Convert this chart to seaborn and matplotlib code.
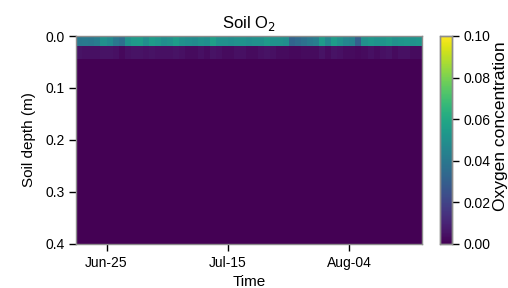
import numpy as np
import pandas as pd
import seaborn as sns
import matplotlib.pyplot as plt

# daily dates, Jun-20 to Aug-15
dates = pd.date_range('2023-06-20', '2023-08-15', freq='D')

# O2 in top layer (0 - 0.02 m), one value per day
top_o2 = [0.040, 0.041, 0.040, 0.042, 0.050, 0.047, 0.040, 0.036,
          0.050, 0.054, 0.055, 0.049, 0.055, 0.053, 0.049, 0.050,
          0.055, 0.050, 0.049, 0.048, 0.050, 0.049, 0.056, 0.051,
          0.050, 0.049, 0.050, 0.051, 0.049, 0.050, 0.050, 0.054,
          0.051, 0.050, 0.049, 0.032, 0.034, 0.037, 0.040, 0.042,
          0.054, 0.046, 0.055, 0.050, 0.046, 0.044, 0.030, 0.050,
          0.053, 0.051, 0.052, 0.054, 0.050, 0.052, 0.053, 0.051, 0.052]

# O2 in second layer (0.02 - 0.045 m)
mid_o2 = [0.005, 0.004, 0.004, 0.004, 0.005, 0.005, 0.004, 0.002,
          0.004, 0.005, 0.005, 0.004, 0.005, 0.004, 0.004, 0.004,
          0.005, 0.004, 0.003, 0.003, 0.004, 0.003, 0.005, 0.004,
          0.003, 0.003, 0.004, 0.004, 0.003, 0.003, 0.004, 0.005,
          0.004, 0.003, 0.003, 0.002, 0.002, 0.003, 0.003, 0.003,
          0.005, 0.003, 0.005, 0.004, 0.003, 0.003, 0.002, 0.003,
          0.004, 0.003, 0.004, 0.005, 0.003, 0.004, 0.004, 0.003, 0.003]

# deeper soil, essentially no oxygen
deep_o2 = 0.0

# depth grid, 0.005 m steps down to 0.4 m
dz = 0.005
depths = np.round(np.arange(0, 0.4, dz), 3)
layer_top = 0.02
layer_mid = 0.045

rows = []
for d in depths:
    if d < layer_top:
        rows.append(top_o2)
    elif d < layer_mid:
        rows.append(mid_o2)
    else:
        rows.append([deep_o2] * len(dates))
df = pd.DataFrame(rows, index=depths, columns=dates)

sns.set_style('ticks')
plt.rcParams['font.family'] = ['Liberation Sans', 'DejaVu Sans']
plt.rcParams['text.color'] = 'black'
plt.rcParams['axes.labelcolor'] = 'black'
plt.rcParams['xtick.color'] = 'black'
plt.rcParams['ytick.color'] = 'black'

fig = plt.figure(figsize=(5.08, 2.88), dpi=100)
ax = fig.add_axes([0.15, 0.153, 0.681, 0.722])
cax = fig.add_axes([0.866, 0.153, 0.023, 0.722])

sns.heatmap(df, ax=ax, cbar_ax=cax, cmap='viridis', vmin=0, vmax=0.1,
            xticklabels=False, yticklabels=False)

# ticks in data units -> heatmap cell positions
tick_depths = [0.0, 0.1, 0.2, 0.3, 0.4]
ax.set_yticks([d / dz for d in tick_depths])
ax.set_yticklabels([f'{d:.1f}' for d in tick_depths], rotation=0)
tick_dates = pd.to_datetime(['2023-06-25', '2023-07-15', '2023-08-04'])
ax.set_xticks([(t - dates[0]).days for t in tick_dates])
ax.set_xticklabels([t.strftime('%b-%d') for t in tick_dates], rotation=0)

for spine in ax.spines.values():
    spine.set_visible(True)
    spine.set_color('#8c8c8c')
    spine.set_linewidth(1.0)
ax.tick_params(labelsize=10, length=5, width=1.0, color='black',
               labelcolor='black', direction='out', left=True, bottom=True)
for t in ax.xaxis.get_major_ticks() + ax.yaxis.get_major_ticks():
    t.tick1line.set_visible(True)

ax.set_title('Soil O$_2$', fontsize=12)
ax.set_xlabel('Time', fontsize=11)
ax.set_ylabel('Soil depth (m)', fontsize=11)
ax.yaxis.set_label_coords(-0.115, 0.5)

cax.tick_params(labelsize=10, length=5, width=1.0, color='black',
                labelcolor='black', direction='out', right=True)
cax.set_yticks([0, 0.02, 0.04, 0.06, 0.08, 0.10])
cax.set_yticklabels(['0.00', '0.02', '0.04', '0.06', '0.08', '0.10'])
for spine in cax.spines.values():
    spine.set_visible(True)
    spine.set_color('#8c8c8c')
    spine.set_linewidth(1.0)
cax.set_ylabel('Oxygen concentration', fontsize=12.5)
cax.yaxis.set_label_coords(4.55, 0.567)

plt.savefig('out.png', dpi=100)
plt.close()
